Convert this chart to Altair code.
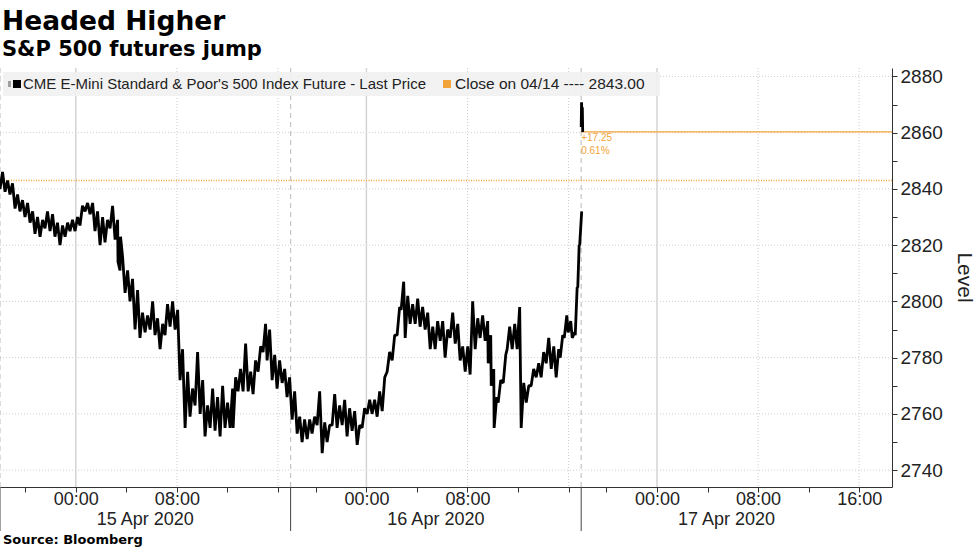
import altair as alt
import pandas as pd

# x axis = trading hours since the 18:00 ET open of 14 Apr (CME 17:00-18:00 break removed, 23 h per session)
t = [0.00,0.40,0.79,1.19,1.58,1.98,2.38,2.77,3.17,3.56,3.96,4.35,4.75,5.15,5.54,5.94,6.33,6.73,7.13,7.52,
     7.92,8.31,8.71,9.11,9.34,9.50,9.90,10.29,10.69,11.08,11.48,11.88,12.27,12.67,13.06,13.46,13.86,14.25,
     14.65,15.04,15.44,15.84,16.23,16.63,17.02,17.42,17.81,18.21,18.45,18.84,19.24,19.64,20.03,20.43,20.82,
     21.14,21.54,21.93,22.33,22.72,
     23.12,23.52,23.91,24.31,24.70,25.10,25.50,25.89,26.29,26.68,27.08,27.47,27.87,28.27,28.66,29.06,29.45,
     29.85,30.25,30.64,31.04,31.43,31.75,32.07,32.46,32.86,33.25,33.65,34.05,34.44,34.84,35.23,35.63,36.03,
     36.42,36.82,37.21,37.61,38.00,38.40,38.64,38.88,39.11,39.43,39.83,40.14,40.54,40.93,41.25,41.65,42.04,
     42.44,42.83,43.23,43.63,44.02,44.34,44.66,44.97,45.29,45.53,45.68,45.84]
lo = [2840,2839,2838,2833,2832,2830,2828,2824,2823,2826,2825,2823,2820,2823,2825,2825,2827,2832,2831,2825,
      2820,2821,2826,2822,2814,2811,2803,2800,2790,2787,2789,2790,2788,2783,2788,2791,2790,2772,2755,2759,
      2763,2760,2752,2755,2754,2752,2755,2755,2755,2768,2768,2768,2767,2775,2782,2779,2772,2769,2771,2766,
      2758,2753,2750,2751,2753,2756,2746,2750,2756,2755,2756,2752,2754,2749,2755,2760,2760,2759,2761,2775,
      2779,2788,2797,2787,2792,2792,2791,2790,2783,2783,2786,2780,2787,2785,2779,2775,2774,2783,2787,2786,
      2778,2770,2755,2764,2771,2783,2783,2783,2755,2764,2770,2773,2773,2778,2776,2773,2780,2787,2789,2787,
      2788,2805,2820]
hi = [2846,2843,2842,2838,2836,2835,2832,2830,2829,2832,2831,2828,2827,2828,2829,2830,2834,2835,2835,2832,
      2830,2829,2834,2829,2823,2816,2811,2808,2804,2796,2795,2800,2794,2792,2799,2800,2797,2783,2775,2769,
      2782,2772,2763,2769,2766,2770,2764,2769,2773,2776,2785,2775,2779,2784,2792,2790,2781,2779,2776,2773,
      2768,2759,2758,2758,2759,2768,2757,2756,2767,2763,2765,2762,2761,2756,2762,2765,2765,2768,2773,2782,
      2788,2798,2807,2802,2799,2801,2798,2796,2791,2793,2793,2790,2796,2792,2784,2784,2800,2794,2795,2793,
      2788,2776,2766,2772,2781,2791,2792,2798,2771,2770,2776,2778,2782,2787,2784,2783,2788,2795,2793,2789,
      2805,2820,2832]
# first minutes of the 17 Apr session
t3 = [46.00, 46.03, 46.06, 46.09, 46.12]
p3 = [2862.0, 2870.8, 2865.0, 2869.0, 2860.25]

prev_close = 2843.00
last_price = 2860.25
chg_txt = "+17.25"
pct_txt = "0.61%"

session_starts = [0, 23, 46]
session_mid = [11.5, 34.5, 57.5]
session_dates = ["15 Apr 2020", "16 Apr 2020", "17 Apr 2020"]
midnight_pos = [6, 29, 52]
other_label_pos = [14, 22, 37, 45, 60, 68]
tick_pos = [2, 6, 10, 14, 18, 22, 25, 29, 33, 37, 41, 45, 48, 52, 56, 60, 64, 68]
tick_lab = ["", "00:00", "", "08:00", "", "", "", "00:00", "", "08:00", "", "",
            "", "00:00", "", "08:00", "", "16:00"]
y_ticks = list(range(2740, 2881, 10))
y_grid = list(range(2740, 2881, 20))
x_end = 70.6

ORANGE = "#f2a43a"
FONT = "Liberation Sans"

# build the price path from the per-interval low/high readings
rows = []
for tt, l, h in zip(t, lo, hi):
    rows.append({"t": tt, "p": l, "s": "a"})
    rows.append({"t": tt + 0.2, "p": h, "s": "a"})
for tt, pp in zip(t3, p3):
    rows.append({"t": tt, "p": pp, "s": "b"})
price = pd.DataFrame(rows)

label_map = " : ".join(
    f"datum.value == {p} ? '{l}'" for p, l in zip(tick_pos, tick_lab) if l
) + " : ''"

xs = alt.Scale(domain=[0, x_end], nice=False, zero=False)
ys = alt.Scale(domain=[2734, 2883], nice=False, zero=False)
X = alt.X("t:Q", scale=xs, axis=alt.Axis(
    values=tick_pos, labelExpr=label_map, title=None, grid=False,
    tickSize=5, labelPadding=-2, labelFont=FONT, labelFontSize=18, labelColor="#222",
    domainColor="#333", tickColor="#333", labelFlush=False, labelOverlap=False))
Y = alt.Y("p:Q", scale=ys, axis=alt.Axis(
    orient="right", values=y_ticks, labelExpr="datum.value % 20 == 0 ? datum.label : ''",
    format="d", grid=False, tickSize=5, labelPadding=3, labelFont=FONT, labelFontSize=19,
    labelColor="#222", domainColor="#333", tickColor="#333", title="Level",
    titleFont=FONT, titleFontSize=21, titleFontWeight="normal", titleColor="#222",
    titleAngle=90, titleX=71, titleY=209, titleAlign="center", titleBaseline="middle"))

one = pd.DataFrame({"k": [0]})

hgrid = alt.Chart(pd.DataFrame({"p": y_grid})).mark_rule(
    color="#cfcfcf", strokeDash=[1, 2], strokeWidth=1).encode(y=Y)
vsolid = alt.Chart(pd.DataFrame({"t": midnight_pos})).mark_rule(
    color="#d4d4d4", strokeWidth=1.5).encode(x=X)
vdot = alt.Chart(pd.DataFrame({"t": other_label_pos})).mark_rule(
    color="#cfcfcf", strokeDash=[1, 2], strokeWidth=1).encode(x=X)
vdash = alt.Chart(pd.DataFrame({"t": session_starts})).mark_rule(
    color="#c4c4c4", strokeDash=[5, 4], strokeWidth=1.2).encode(x=X)

close_line = alt.Chart(pd.DataFrame({"p": [prev_close]})).mark_rule(
    color=ORANGE, strokeDash=[1, 1.5], strokeWidth=1.3).encode(y=Y)
last_line = alt.Chart(pd.DataFrame({"t": [46.0], "t2": [x_end], "p": [last_price]})).mark_rule(
    color=ORANGE, strokeWidth=1.2).encode(x=X, x2="t2:Q", y=Y)

line = alt.Chart(price).mark_line(
    color="black", strokeWidth=2.8, interpolate="linear", strokeJoin="bevel").encode(
    x=X, y=Y, detail="s:N", order="t:Q")

ann = pd.DataFrame({"t": [46.0], "p": [last_price]})
ann1 = alt.Chart(ann).mark_text(
    text=chg_txt, color=ORANGE, align="left", baseline="top", dx=0, dy=1,
    font=FONT, fontSize=10).encode(x=X, y=Y)
ann2 = alt.Chart(ann).mark_text(
    text=pct_txt, color=ORANGE, align="left", baseline="top", dx=0, dy=14,
    font=FONT, fontSize=10).encode(x=X, y=Y)

date_txt = alt.Chart(pd.DataFrame({"t": session_mid, "d": session_dates})).mark_text(
    font=FONT, fontSize=18, color="#222", baseline="middle").encode(
    x=X, y=alt.value(452), text="d:N")
sep_ticks = alt.Chart(pd.DataFrame({"t": session_starts})).mark_rule(
    color="#444", strokeWidth=1).encode(x=X, y=alt.value(419), y2=alt.value(463))

legend_bg = alt.Chart(one).mark_rect(color="#f1f1f1", opacity=0.9).encode(
    x=alt.value(3), x2=alt.value(660), y=alt.value(4), y2=alt.value(28))
legend_pin = alt.Chart(one).mark_rect(color="#a0a0a0").encode(
    x=alt.value(8), x2=alt.value(11), y=alt.value(13), y2=alt.value(19))
legend_sq1 = alt.Chart(one).mark_rect(color="black").encode(
    x=alt.value(13), x2=alt.value(21), y=alt.value(12), y2=alt.value(20))
legend_t1 = alt.Chart(one).mark_text(
    text="CME E-Mini Standard & Poor's 500 Index Future - Last Price",
    font=FONT, fontSize=15, color="#222", align="left", baseline="middle").encode(
    x=alt.value(23), y=alt.value(16))
legend_sq2 = alt.Chart(one).mark_rect(color=ORANGE).encode(
    x=alt.value(443), x2=alt.value(451), y=alt.value(12), y2=alt.value(20))
legend_t2 = alt.Chart(one).mark_text(
    text="Close on 04/14 ---- 2843.00",
    font=FONT, fontSize=15.5, color="#222", align="left", baseline="middle").encode(
    x=alt.value(455), y=alt.value(16))

title_t = alt.Chart(one).mark_text(
    text="Headed Higher", font="DejaVu Sans", fontWeight="bold", fontSize=26.5,
    color="black", align="left", baseline="alphabetic").encode(
    x=alt.value(2), y=alt.value(-38))
subtitle_t = alt.Chart(one).mark_text(
    text="S&P 500 futures jump", font="DejaVu Sans", fontWeight="bold", fontSize=21,
    color="black", align="left", baseline="alphabetic").encode(
    x=alt.value(2), y=alt.value(-12))
source = alt.Chart(one).mark_text(
    text="Source: Bloomberg", font="DejaVu Sans", fontWeight="bold", fontSize=13,
    color="black", align="left", baseline="middle").encode(
    x=alt.value(3), y=alt.value(472))

chart = alt.layer(
    hgrid, vsolid, vdot, vdash, close_line, last_line, line, ann1, ann2,
    legend_bg, legend_pin, legend_sq1, legend_t1, legend_sq2, legend_t2,
    date_txt, sep_ticks, title_t, subtitle_t, source
).properties(
    width=892, height=419,
    autosize=alt.AutoSizeParams(type="none"),
    padding={"left": 0, "top": 68, "right": 85, "bottom": 62},
    background="white"
).configure_view(stroke=None)

chart.save("out.html", embed_options={"renderer": "svg", "actions": False})
